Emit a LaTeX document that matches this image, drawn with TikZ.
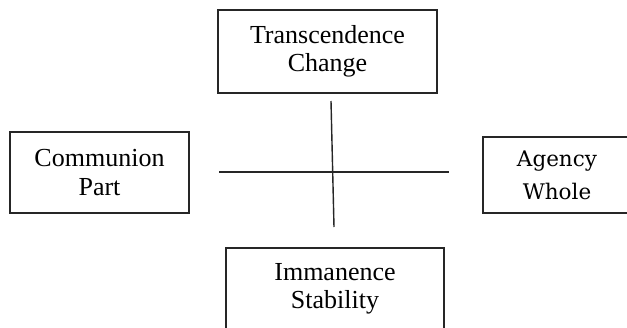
\documentclass[tikz,border=0pt]{standalone}
\usepackage{fontspec}
\setmainfont{Liberation Serif}
\newfontfamily\agfont{DejaVu Serif}
\begin{document}
\begin{tikzpicture}[x=1pt,y=-1pt,
  box/.style={draw=black!85,line width=1.5pt,align=center,inner sep=0pt,
    font=\fontsize{26}{28.5}\selectfont},
  axis/.style={draw=black!85,line width=1.4pt}]
\useasboundingbox[fill=white] (0,0) rectangle (627,327);
\node[box,minimum width=219,minimum height=83] (top) at (327.5,51.5) {Transcendence\\Change};
\node[box,minimum width=179,minimum height=81] (left) at (99.5,172.5) {Communion\\Part};
\draw[draw=black!85,line width=1.5pt] (628,137) -- (483,137) -- (483,213) -- (628,213);
\node[align=center,inner sep=0pt,font=\agfont\fontsize{21.5}{33}\selectfont] (right) at (557,175) {Agency\\Whole};
\node[box,minimum width=218,minimum height=82] (bottom) at (335,289) {Immanence\\Stability};
\coordinate (vt) at (331,101);
\coordinate (vb) at (334,227);
\coordinate (hl) at (219,172);
\coordinate (hr) at (449,172);
\draw[axis] (vt) -- (vb);
\draw[axis] (hl) -- (hr);
\end{tikzpicture}
\end{document}
